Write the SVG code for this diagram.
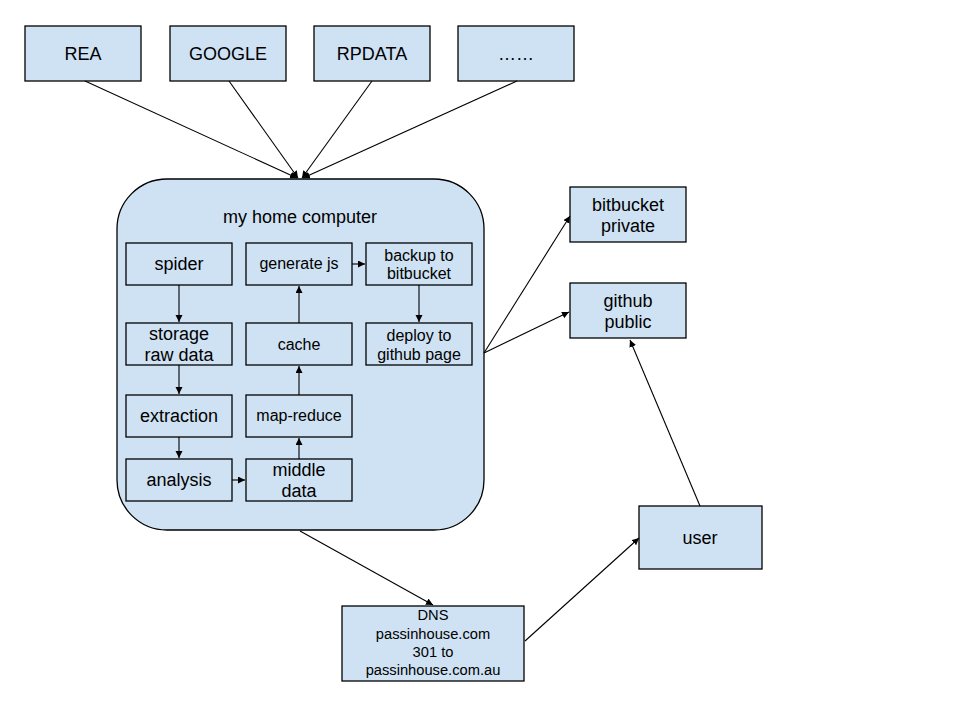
<svg xmlns="http://www.w3.org/2000/svg" width="960" height="720" viewBox="0 0 960 720">
<style>
.box{fill:#cfe2f3;stroke:#000;stroke-width:1.3}
text{font-family:"Liberation Sans",Arial,sans-serif;fill:#000;text-anchor:middle}
.l{font-size:18px}
.m{font-size:16px}
.s{font-size:14.7px}
.c{fill:none;stroke:#000;stroke-width:1.1}
</style>
<defs>
<marker id="ah" markerUnits="userSpaceOnUse" markerWidth="8" markerHeight="8" refX="7" refY="3.5" orient="auto">
<path d="M0,0 L7,3.5 L0,7 z" fill="#000"/>
</marker>
</defs>
<rect width="960" height="720" fill="#fff"/>
<g id="rea"><rect class="box" x="25" y="26" width="116" height="55"/><text class="l" x="83" y="60">REA</text></g>
<g id="google"><rect class="box" x="170" y="26" width="116" height="55"/><text class="l" x="228" y="60">GOOGLE</text></g>
<g id="rpdata"><rect class="box" x="314" y="26" width="116" height="55"/><text class="l" x="372" y="60">RPDATA</text></g>
<g id="more"><rect class="box" x="458" y="26" width="116" height="55"/><text class="l" x="516" y="60">……</text></g>
<g id="home"><rect class="box" x="117" y="179" width="367" height="351" rx="50" ry="50"/><text class="l" x="300" y="223">my home computer</text></g>
<g id="spider"><rect class="box" x="126" y="243" width="106" height="42"/><text class="l" x="179" y="270">spider</text></g>
<g id="storage"><rect class="box" x="126" y="323" width="106" height="42"/><text class="l" x="179" y="340">storage</text><text class="l" x="179" y="361">raw data</text></g>
<g id="extraction"><rect class="box" x="126" y="395" width="106" height="42"/><text class="l" x="179" y="422">extraction</text></g>
<g id="analysis"><rect class="box" x="126" y="459" width="106" height="42"/><text class="l" x="179" y="486">analysis</text></g>
<g id="middle"><rect class="box" x="246" y="459" width="106" height="42"/><text class="l" x="299" y="476">middle</text><text class="l" x="299" y="497">data</text></g>
<g id="mapreduce"><rect class="box" x="246" y="395" width="106" height="42"/><text class="m" x="299" y="421">map-reduce</text></g>
<g id="cache"><rect class="box" x="246" y="323" width="106" height="42"/><text class="m" x="299" y="350">cache</text></g>
<g id="genjs"><rect class="box" x="246" y="243" width="106" height="42"/><text class="m" x="299" y="269">generate js</text></g>
<g id="backup"><rect class="box" x="366" y="243" width="106" height="42"/><text class="m" x="419" y="261">backup to</text><text class="m" x="419" y="279">bitbucket</text></g>
<g id="deploy"><rect class="box" x="366" y="323" width="106" height="42"/><text class="m" x="419" y="341">deploy to</text><text class="m" x="419" y="360">github page</text></g>
<g id="bitbucket"><rect class="box" x="570" y="187" width="116" height="55"/><text class="l" x="628" y="211">bitbucket</text><text class="l" x="628" y="232">private</text></g>
<g id="github"><rect class="box" x="570" y="283" width="116" height="55"/><text class="l" x="628" y="307">github</text><text class="l" x="628" y="328">public</text></g>
<g id="user"><rect class="box" x="639" y="506" width="123" height="63"/><text class="l" x="700" y="544">user</text></g>
<g id="dns"><rect class="box" x="342" y="606" width="182" height="75"/><text class="s" x="433" y="620">DNS</text><text class="s" x="433" y="639">passinhouse.com</text><text class="s" x="433" y="657">301 to</text><text class="s" x="433" y="675">passinhouse.com.au</text></g>
<g id="connectors">
<line class="c" x1="85" y1="81" x2="297" y2="178" marker-end="url(#ah)"/>
<line class="c" x1="229" y1="81" x2="298" y2="178" marker-end="url(#ah)"/>
<line class="c" x1="372" y1="81" x2="302" y2="178" marker-end="url(#ah)"/>
<line class="c" x1="517" y1="81" x2="303" y2="178" marker-end="url(#ah)"/>
<line class="c" x1="179" y1="285" x2="179" y2="322" marker-end="url(#ah)"/>
<line class="c" x1="179" y1="365" x2="179" y2="394" marker-end="url(#ah)"/>
<line class="c" x1="179" y1="437" x2="179" y2="458" marker-end="url(#ah)"/>
<line class="c" x1="232" y1="480" x2="245" y2="480" marker-end="url(#ah)"/>
<line class="c" x1="299" y1="459" x2="299" y2="438" marker-end="url(#ah)"/>
<line class="c" x1="299" y1="395" x2="299" y2="366" marker-end="url(#ah)"/>
<line class="c" x1="299" y1="323" x2="299" y2="286" marker-end="url(#ah)"/>
<line class="c" x1="352" y1="264" x2="365" y2="264" marker-end="url(#ah)"/>
<line class="c" x1="419" y1="285" x2="419" y2="322" marker-end="url(#ah)"/>
<line class="c" x1="484" y1="353" x2="570" y2="216" marker-end="url(#ah)"/>
<line class="c" x1="484" y1="353" x2="569" y2="312" marker-end="url(#ah)"/>
<line class="c" x1="300" y1="531" x2="433" y2="605" marker-end="url(#ah)"/>
<line class="c" x1="525" y1="641" x2="639" y2="538" marker-end="url(#ah)"/>
<line class="c" x1="700" y1="506" x2="630" y2="340" marker-end="url(#ah)"/>
</g>
</svg>
